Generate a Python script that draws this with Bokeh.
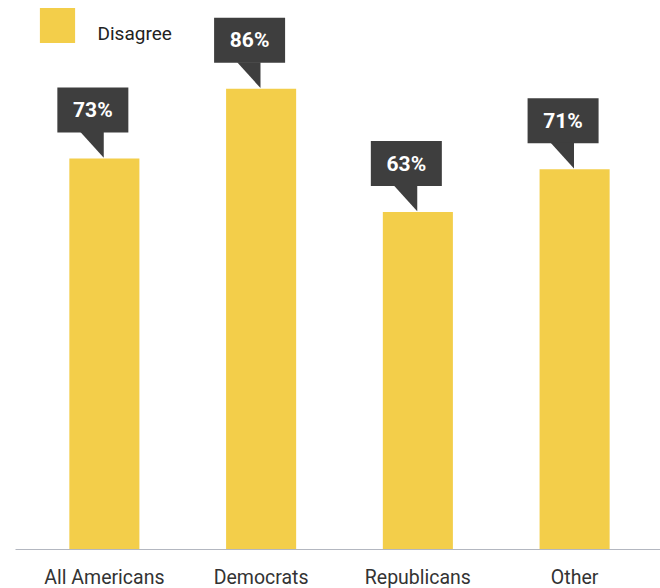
from bokeh.plotting import figure
from bokeh.models import Range1d, FixedTicker, Legend, LegendItem, ColumnDataSource, Label
from bokeh.core.properties import value
from bokeh.embed import file_html
from bokeh.resources import INLINE

categories = ["All Americans", "Democrats", "Republicans", "Other"]
disagree = [73, 86, 63, 71]
labels = ["73%", "86%", "63%", "71%"]
series_name = "Disagree"

YELLOW = "#F3CE4A"
DARK = "#3E3E3E"
FONT = "Roboto"

xs = list(range(len(categories)))

p = figure(frame_width=645, frame_height=541, output_backend="svg", toolbar_location=None,
           x_range=Range1d(-0.567, 3.548), y_range=Range1d(0, 101.0),
           min_border_left=15, min_border_right=0, min_border_top=8, min_border_bottom=39)
p.outline_line_color = None
p.grid.visible = False
p.yaxis.visible = False
p.background_fill_color = "white"
p.border_fill_color = "white"

src = ColumnDataSource(dict(x=xs, top=disagree))
bars = p.vbar(x="x", top="top", width=0.447, bottom=0, source=src,
              fill_color=YELLOW, line_color=None)

# callouts (offsets relative to each bar's value)
bx_l, bx_r = -0.300, 0.153
by_b, by_t = 4.85, 13.26
box_xs, box_ys, tri_xs, tri_ys, tx, ty = [], [], [], [], [], []
for i, v in zip(xs, disagree):
    box_xs.append([i + bx_l, i + bx_r, i + bx_r, i + bx_l])
    box_ys.append([v + by_b, v + by_b, v + by_t, v + by_t])
    tri_xs.append([i - 0.153, i - 0.004, i - 0.004])
    tri_ys.append([v + by_b + 0.1, v + by_b + 0.1, v + 0.15])
    tx.append(i + (bx_l + bx_r) / 2)
    ty.append(v + (by_b + by_t) / 2)
p.patches(box_xs, box_ys, fill_color=DARK, line_color=None)
p.patches(tri_xs, tri_ys, fill_color=DARK, line_color=None)
p.text(x=tx, y=ty, text=labels, text_color="white", text_font=value(FONT),
       text_font_style="bold", text_font_size="21px", text_align="center",
       text_baseline="middle")

ax = p.xaxis[0]
ax.ticker = FixedTicker(ticks=xs)
ax.major_label_overrides = {i: c for i, c in zip(xs, categories)}
ax.axis_line_color = "#B3B7C0"
ax.axis_line_width = 1
ax.major_tick_line_color = None
ax.minor_tick_line_color = None
ax.major_tick_in = 0
ax.major_tick_out = 0
ax.major_label_text_font = FONT
ax.major_label_text_font_size = "19.5px"
ax.major_label_text_color = "#333333"
ax.major_label_standoff = 16

# legend swatch (area legend glyphs are inset by 10% on each side)
legend = Legend(items=[LegendItem(label=" ", renderers=[bars])],
                location=(20, 502), padding=0, margin=0, spacing=0,
                glyph_width=44, glyph_height=44, label_standoff=0,
                label_text_font_size="19px",
                border_line_color=None, background_fill_alpha=0)
p.add_layout(legend)
# legend text
p.add_layout(Label(x=82, y=516, x_units="screen", y_units="screen",
                   text=series_name, text_font=FONT, text_font_size="19px",
                   text_color="#222222", text_baseline="alphabetic"))

open("out.html", "w").write(file_html(p, INLINE))
